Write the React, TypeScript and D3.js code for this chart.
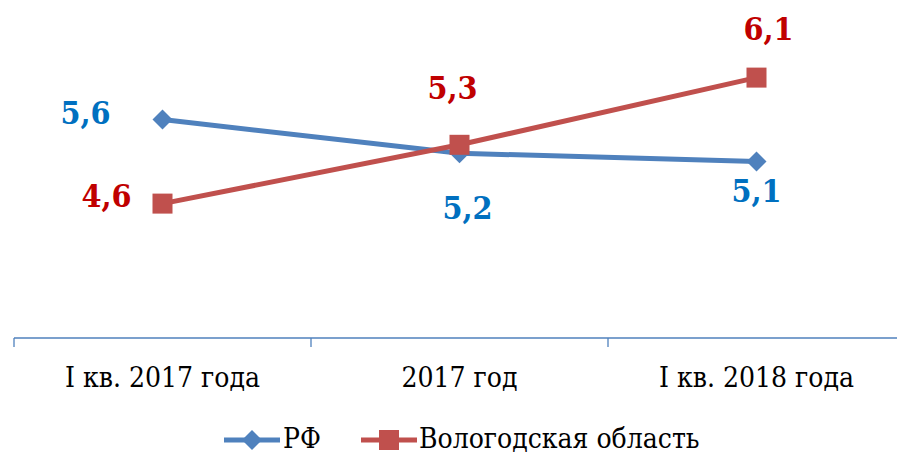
import React from "react";
import * as d3 from "d3";

const categories = ["I кв. 2017 года", "2017 год", "I кв. 2018 года"];
const rfValues = [5.6, 5.2, 5.1];
const vologdaValues = [4.6, 5.3, 6.1];
const seriesNames = ["РФ", "Вологодская область"];

const W = 897, H = 455;

export default function App() {
  const x = d3.scaleBand<string>().domain(categories).range([14, 905]);
  const y = d3.scaleLinear().domain([3, 7]).range([338, 2]);
  const cx = (c: string) => (x(c) as number) + x.bandwidth() / 2;
  const line = d3.line<number>().x((_, i) => cx(categories[i])).y((v) => y(v));
  const blue = "#4F81BD", red = "#C0504D";
  const blueText = "#0070C0", redText = "#C00000";
  const font = { fontFamily: "'DejaVu Serif Condensed', 'DejaVu Serif', serif", fontStretch: "condensed" } as React.CSSProperties;
  const rfOff = [[-77, 4], [8, 66], [0, 40]];
  const voOff = [[-56, 3], [-7, -46], [12, -38]];
  const diamond = d3.symbol().type(d3.symbolSquare).size(200)() as string;
  const fmt = (v: number) => d3.format(".1f")(v).replace(".", ",");
  return (
    <svg width={W} height={H} style={{ position: "absolute", left: 0, top: 0, background: "#fff" }}>
      <line x1={14} x2={897} y1={338} y2={338} stroke={blue} strokeWidth={1.3} />
      {categories.map((c) => x(c) as number).map((tx, i) => (
        <line key={i} x1={tx} x2={tx} y1={338} y2={347} stroke={blue} strokeWidth={1.3} />
      ))}
      {categories.map((c) => (
        <text key={c} x={cx(c)} y={387} textAnchor="middle" style={font} fontSize={28} fill="#000">{c}</text>
      ))}
      <path d={line(rfValues) as string} fill="none" stroke={blue} strokeWidth={5} strokeLinejoin="round" />
      <path d={line(vologdaValues) as string} fill="none" stroke={red} strokeWidth={5} strokeLinejoin="round" />
      {rfValues.map((v, i) => (
        <path key={"d" + i} d={diamond} transform={`translate(${cx(categories[i])},${y(v)}) rotate(45)`} fill={blue} />
      ))}
      {vologdaValues.map((v, i) => (
        <rect key={"s" + i} x={cx(categories[i]) - 10} y={y(v) - 10} width={20} height={20} fill={red} />
      ))}
      {rfValues.map((v, i) => (
        <text key={"rl" + i} x={cx(categories[i]) + rfOff[i][0]} y={y(v) + rfOff[i][1]} textAnchor="middle" style={font} fontWeight="bold" fontSize={32} fill={blueText}>{fmt(v)}</text>
      ))}
      {vologdaValues.map((v, i) => (
        <text key={"vl" + i} x={cx(categories[i]) + voOff[i][0]} y={y(v) + voOff[i][1]} textAnchor="middle" style={font} fontWeight="bold" fontSize={32} fill={redText}>{fmt(v)}</text>
      ))}
      <g transform="translate(0,440)">
        <line x1={224} x2={280} y1={0} y2={0} stroke={blue} strokeWidth={5} />
        <path d={diamond} transform="translate(252,0) rotate(45)" fill={blue} />
        <text x={283} y={8} style={font} fontSize={28}>{seriesNames[0]}</text>
        <line x1={361} x2={417} y1={0} y2={0} stroke={red} strokeWidth={5} />
        <rect x={379} y={-10} width={20} height={20} fill={red} />
        <text x={419} y={8} style={font} fontSize={28}>{seriesNames[1]}</text>
      </g>
    </svg>
  );
}
